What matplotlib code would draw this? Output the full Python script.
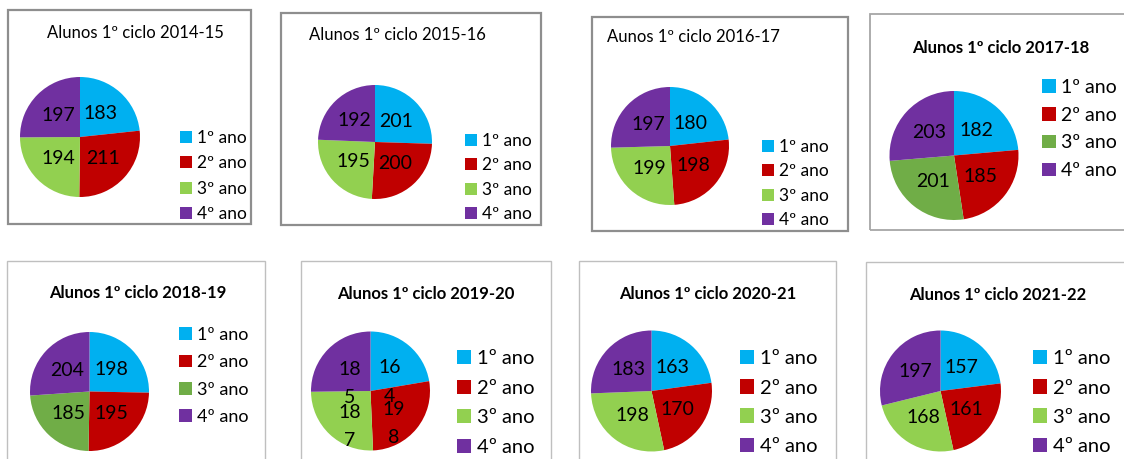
import matplotlib
matplotlib.use('Agg')
import matplotlib.pyplot as plt
from matplotlib.patches import Rectangle

plt.rcParams['font.family'] = ['Lato', 'DejaVu Sans']

# data
titles = ['Alunos 1º ciclo 2014-15', 'Alunos 1º ciclo 2015-16', 'Aunos 1º ciclo 2016-17',
          'Alunos 1º ciclo 2017-18', 'Alunos 1º ciclo 2018-19', 'Alunos 1º ciclo 2019-20',
          'Alunos 1º ciclo 2020-21', 'Alunos 1º ciclo 2021-22']
anos = ['1º ano', '2º ano', '3º ano', '4º ano']
ano1 = [183, 201, 180, 182, 198, 164, 163, 157]
ano2 = [211, 200, 198, 185, 195, 198, 170, 161]
ano3 = [194, 195, 199, 201, 185, 187, 198, 168]
ano4 = [197, 192, 197, 203, 204, 185, 183, 197]

W, H = 1124, 459
light_green = '#92D050'
dark_green = '#70AD47'

# layout per panel (pixels): box, pie centre/radius, title, legend
panels = [
    dict(box=(8, 10, 251, 224), bc='#8E8E8E', blw=1.6, c=(80, 137), r=60,
         t=(135, 38, 'center'), bold=False, tfs=12, lg=(180, 176), lfs=12.5, lsp=24.7, pfs=14, green=light_green),
    dict(box=(281, 13, 541, 225), bc='#8E8E8E', blw=1.6, c=(375, 142), r=57,
         t=(397, 40, 'center'), bold=False, tfs=12, lg=(465, 177.5), lfs=12.5, lsp=23.7, pfs=14, green=light_green),
    dict(box=(592, 17, 848, 231), bc='#8E8E8E', blw=1.6, c=(670, 146), r=59,
         t=(607, 42, 'left'), bold=False, tfs=12, lg=(762, 183.5), lfs=12.5, lsp=23.7, pfs=14, green=light_green),
    dict(box=(870, 14, 1135, 230), bc='#A6A6A6', blw=1.3, c=(954, 155.5), r=64.5,
         t=(1001, 53, 'center'), bold=True, tfs=12, lg=(1042, 129), lfs=14, lsp=28, pfs=14, green=dark_green),
    dict(box=(7, 261, 265, 470), bc='#BFBFBF', blw=1.0, c=(89.5, 391.5), r=59.5,
         t=(138, 298, 'center'), bold=True, tfs=12, lg=(179, 376), lfs=13, lsp=27.3, pfs=14, green=dark_green),
    dict(box=(301, 261, 551, 470), bc='#BFBFBF', blw=1.0, c=(370.5, 391), r=59.5,
         t=(426, 299, 'center'), bold=True, tfs=12, lg=(457, 403), lfs=14.5, lsp=30, pfs=14, green=light_green),
    dict(box=(579, 261, 836, 470), bc='#BFBFBF', blw=1.0, c=(651.5, 391), r=60.5,
         t=(708, 299, 'center'), bold=True, tfs=12, lg=(740, 402.5), lfs=14.5, lsp=29.7, pfs=14, green=light_green),
    dict(box=(866, 262, 1135, 470), bc='#BFBFBF', blw=1.0, c=(940.5, 391), r=60.5,
         t=(998, 300, 'center'), bold=True, tfs=12, lg=(1033, 402.5), lfs=14.5, lsp=29.7, pfs=14, green=light_green),
]

fig = plt.figure(figsize=(W / 100, H / 100), dpi=100)


def fx(x):
    return x / W


def fy(y):
    return 1 - y / H


for i, p in enumerate(panels):
    x0, y0, x1, y1 = p['box']
    fig.add_artist(Rectangle((fx(x0), fy(y1)), (x1 - x0) / W, (y1 - y0) / H,
                             transform=fig.transFigure, fill=False,
                             edgecolor=p['bc'], linewidth=p['blw']))

    vals = [ano1[i], ano2[i], ano3[i], ano4[i]]
    wrap = titles[i].endswith('2019-20')
    if wrap:
        labels = [str(v)[:2] + '\n' + str(v)[2:] for v in vals]
    else:
        labels = [str(v) for v in vals]

    cx, cy = p['c']
    r = p['r']
    ax = fig.add_axes([fx(cx - r), fy(cy + r), 2 * r / W, 2 * r / H])
    colors = ['#00B0F0', '#C00000', p['green'], '#7030A0']
    wedges, texts = ax.pie(vals, colors=colors, startangle=90, counterclock=False,
                           labels=labels, labeldistance=0.5 if wrap else 0.52,
                           wedgeprops=dict(linewidth=0),
                           textprops=dict(fontsize=p['pfs'], color='black'))
    for t in texts:
        t.set_ha('center')
        t.set_va('center')
        if wrap:
            tx, ty = t.get_position()
            t.set_position((tx, ty - 0.23))
            t.set_linespacing(1.8)
    ax.set_xlim(-1, 1)
    ax.set_ylim(-1, 1)

    tx, ty, ha = p['t']
    fig.text(fx(tx), fy(ty), titles[i], ha=ha, va='baseline', fontsize=p['tfs'],
             fontweight='bold' if p['bold'] else 'normal')

    lx, ly = p['lg']
    fs_px = p['lfs'] * 100 / 72
    leg = fig.legend(wedges, anos, loc='center left', bbox_to_anchor=(fx(lx), fy(ly)),
                     frameon=False, fontsize=p['lfs'], handlelength=0.7, handleheight=0.7,
                     handletextpad=0.3, borderpad=0, borderaxespad=0,
                     labelspacing=p['lsp'] / fs_px - 0.88)

fig.savefig('out.png', dpi=100)
